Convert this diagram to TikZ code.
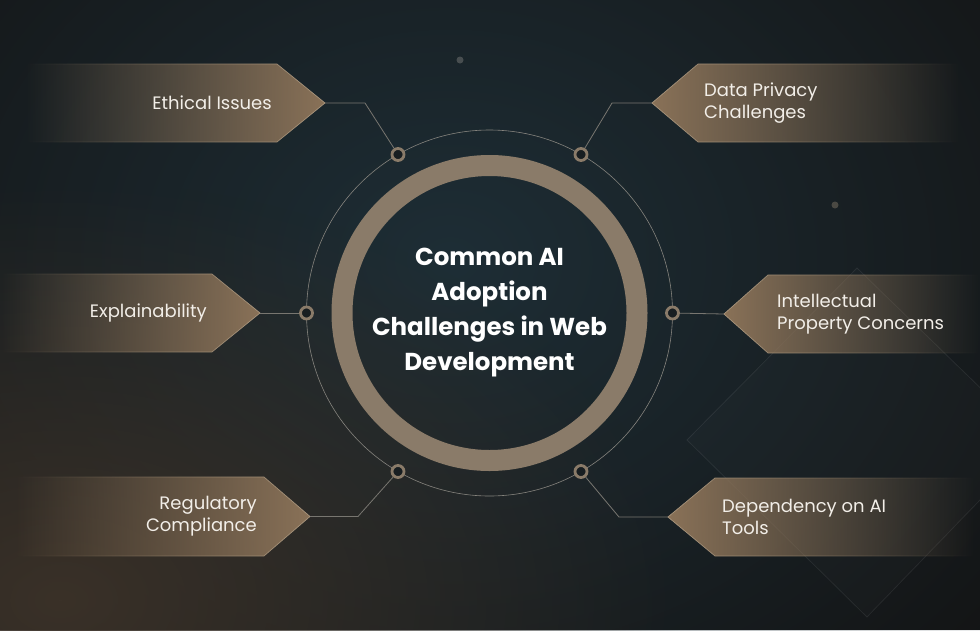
\documentclass[tikz,border=0pt]{standalone}
\usepackage{fontspec}
\setmainfont{Poppins}
\usetikzlibrary{fadings,calc}

\definecolor{bgdark}{RGB}{19,19,19}
\definecolor{bgteal}{RGB}{30,46,54}
\definecolor{bgbrown}{RGB}{58,49,40}
\definecolor{ringtan}{RGB}{138,123,105}
\definecolor{boxtan}{RGB}{138,114,88}
\definecolor{edgetan}{RGB}{170,150,125}
\definecolor{linegray}{RGB}{120,118,112}
\definecolor{dotfill}{RGB}{24,30,33}
\definecolor{txt}{RGB}{242,238,232}

\tikzfading[name=fuzzy, inner color=transparent!0, outer color=transparent!100]
\tikzfading[name=toright, left color=transparent!100, middle color=transparent!78, right color=transparent!0]
\tikzfading[name=toleft, left color=transparent!0, middle color=transparent!78, right color=transparent!100]

\tikzset{
  lbox/.style={fill=boxtan, path fading=toright},
  rbox/.style={fill=boxtan, path fading=toleft},
  ledge/.style={draw=edgetan, line width=0.7, path fading=toright},
  redge/.style={draw=edgetan, line width=0.7, path fading=toleft},
  ltext/.style={text=txt, anchor=east, align=right, font=\fontsize{18}{22}\selectfont, inner sep=0},
  rtext/.style={text=txt, anchor=west, align=left, font=\fontsize{18}{22}\selectfont, inner sep=0},
  dot/.style={circle, draw=ringtan, line width=2.8, fill=dotfill, minimum size=12, inner sep=0},
  conn/.style={draw=linegray, line width=0.8},
}

\begin{document}
\begin{tikzpicture}[x=1pt, y=-1pt]
\useasboundingbox (0,0) rectangle (980,630);
% background
\fill[bgdark] (0,0) rectangle (980,630);
\fill[bgteal, path fading=fuzzy] (450,260) ellipse (760 and 620);
\fill[bgbrown, path fading=fuzzy] (60,600) ellipse (620 and 420);
% decorative diamond and dots
\fill[white, opacity=0.015] (857,268) -- (1036,442) -- (867,617) -- (687,440) -- cycle;
\draw[white, opacity=0.07, line width=0.8] (857,268) -- (1036,442) -- (867,617) -- (687,440) -- cycle;
\fill[gray, opacity=0.45] (460,60) circle (3.5);
\fill[edgetan, opacity=0.35] (835,205) circle (3.5);

% centre
\coordinate (c) at (489.5,313);
\draw[linegray!90!white, line width=0.6] (c) circle (183);
\draw[ringtan, line width=21] (c) circle (147.5);
\node[text=white, align=center, font=\fontsize{24.5}{35}\selectfont\bfseries] (title) at (c)
  {Common AI\\Adoption\\Challenges in Web\\Development};

% dots on the thin circle
\node[dot] (d1) at (398,154.5) {};
\node[dot] (d2) at (581,154.5) {};
\node[dot] (d3) at (306.5,313) {};
\node[dot] (d4) at (672.5,313) {};
\node[dot] (d5) at (398,471.5) {};
\node[dot] (d6) at (581,471.5) {};

% left boxes
\path[lbox] (25,64) -- (277,64) -- (325,103) -- (277,142) -- (25,142) -- cycle;
\path[ledge] (25,64) -- (277,64) -- (325,103) -- (277,142) -- (25,142);
\coordinate (t1) at (325,103);
\node[ltext] (l1) at (272,103) {Ethical Issues};

\path[lbox] (0,274) -- (212,274) -- (260,313) -- (212,352) -- (0,352) -- cycle;
\path[ledge] (0,274) -- (212,274) -- (260,313) -- (212,352) -- (0,352);
\coordinate (t3) at (260,313);
\node[ltext] (l3) at (207,313) {Explainability};

\path[lbox] (15,477) -- (264,477) -- (310,516.5) -- (264,556) -- (15,556) -- cycle;
\path[ledge] (15,477) -- (264,477) -- (310,516.5) -- (264,556) -- (15,556);
\coordinate (t5) at (310,516.5);
\node[ltext] (l5) at (257,516.5) {Regulatory\\Compliance};

% right boxes
\path[rbox] (960,64) -- (698,64) -- (652,103) -- (698,142) -- (960,142) -- cycle;
\path[redge] (960,64) -- (698,64) -- (652,103) -- (698,142) -- (960,142);
\coordinate (t2) at (652,103);
\node[rtext] (l2) at (704,103) {Data Privacy\\Challenges};

\path[rbox] (980,275) -- (768,275) -- (724,314) -- (768,353) -- (980,353) -- cycle;
\path[redge] (980,275) -- (768,275) -- (724,314) -- (768,353) -- (980,353);
\coordinate (t4) at (724,314);
\node[rtext] (l4) at (777,314) {Intellectual\\Property Concerns};

\path[rbox] (975,478) -- (715,478) -- (668,517) -- (715,556) -- (975,556) -- cycle;
\path[redge] (975,478) -- (715,478) -- (668,517) -- (715,556) -- (975,556);
\coordinate (t6) at (668,517);
\node[rtext] (l6) at (722,517) {Dependency on AI\\Tools};

% connectors
\coordinate (e1) at (365,103);
\coordinate (e2) at (612,103);
\coordinate (e5) at (358,516.5);
\coordinate (e6) at (619,517);
\draw[conn] (t1) -- (e1) -- (d1);
\draw[conn] (t2) -- (e2) -- (d2);
\draw[conn] (t3) -- (d3);
\draw[conn] (t4) -- (d4);
\draw[conn] (t5) -- (e5) -- (d5);
\draw[conn] (t6) -- (e6) -- (d6);
\end{tikzpicture}
\end{document}
